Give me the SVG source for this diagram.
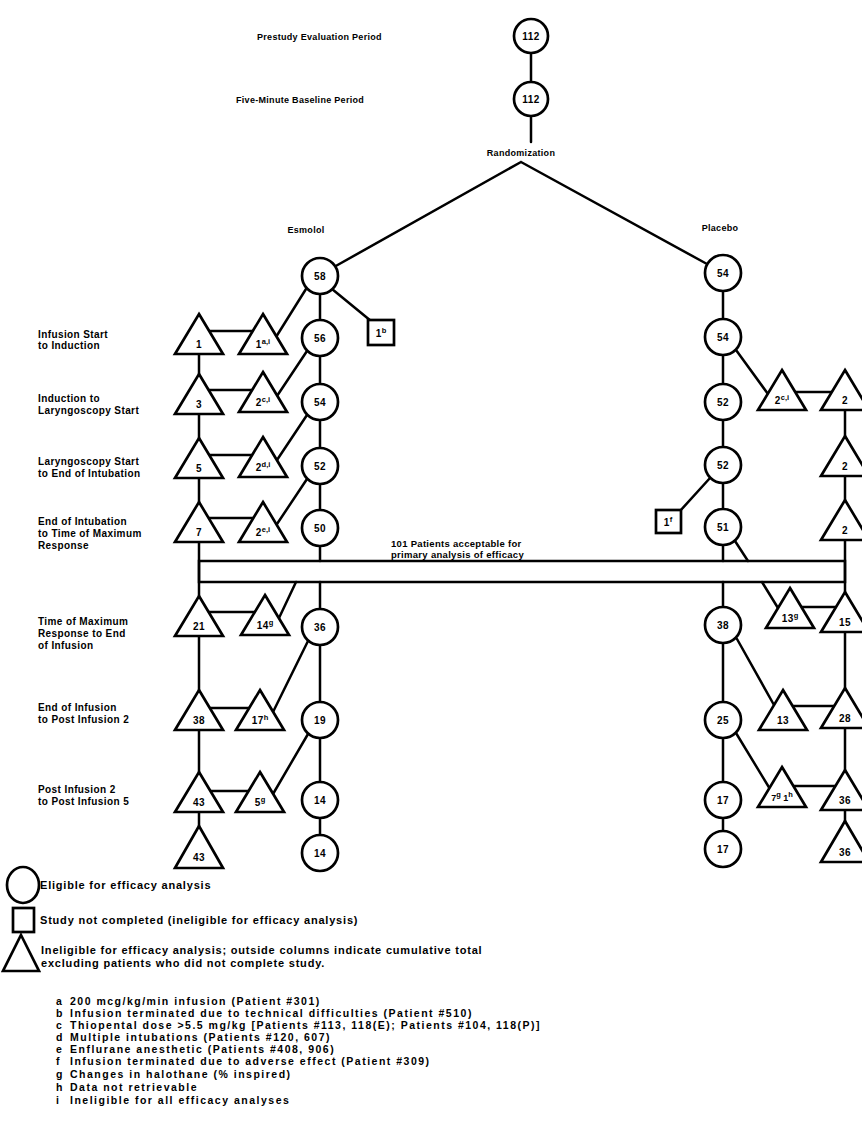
<svg xmlns="http://www.w3.org/2000/svg" width="862" height="1138" viewBox="0 0 862 1138">
<style>
.ln{stroke:#000;stroke-width:2.5;fill:none;stroke-linecap:round}
.nd{fill:#fff;stroke:#000;stroke-width:2.7}
.t{font-family:"Liberation Sans",Arial,sans-serif;font-weight:bold;font-size:10px;fill:#000;letter-spacing:0.4px}
.tp{font-size:9px;letter-spacing:0.3px}
.bd{font-size:9.5px;letter-spacing:0.3px}
.lg{font-size:11px;letter-spacing:0.8px}
.fn{font-size:10.5px;letter-spacing:1.5px}
.n{text-anchor:middle}
.s{font-size:7.5px;letter-spacing:0}
</style>
<rect width="862" height="1138" fill="#fff"/>
<g id="labels">
<text class="t tp" x="257" y="40">Prestudy Evaluation Period</text>
<text class="t tp" x="236" y="103">Five-Minute Baseline Period</text>
<text class="t tp n" x="521" y="156">Randomization</text>
<text class="t tp n" x="306" y="233">Esmolol</text>
<text class="t tp n" x="720" y="231">Placebo</text>
<text class="t" x="38" y="338">Infusion Start</text><text class="t" x="38" y="349">to Induction</text>
<text class="t" x="38" y="402">Induction to</text><text class="t" x="38" y="414">Laryngoscopy Start</text>
<text class="t" x="38" y="465">Laryngoscopy Start</text><text class="t" x="38" y="477">to End of Intubation</text>
<text class="t" x="38" y="525">End of Intubation</text><text class="t" x="38" y="537">to Time of Maximum</text><text class="t" x="38" y="549">Response</text>
<text class="t" x="38" y="625">Time of Maximum</text><text class="t" x="38" y="637">Response to End</text><text class="t" x="38" y="649">of Infusion</text>
<text class="t" x="38" y="711">End of Infusion</text><text class="t" x="38" y="723">to Post Infusion 2</text>
<text class="t" x="38" y="793">Post Infusion 2</text><text class="t" x="38" y="805">to Post Infusion 5</text>
<text class="t bd" x="391" y="547">101 Patients acceptable for</text>
<text class="t bd" x="391" y="558">primary analysis of efficacy</text>
</g>
<g id="connectors" class="ln">
<path d="M531,53V82M531,116V142"/>
<path d="M521,162L334,267M521,162L707,264"/>
<rect x="199" y="561" width="646" height="21"/>
<path d="M320,294V320M320,356V384M320,420V448M320,484V510M320,546V561M320,582V609M320,645V702M320,738V782M320,818V835"/>
<path d="M199,354V374M199,414V438M199,478V502M199,542V596M199,636V690M199,730V772M199,812V826"/>
<path d="M209,331H253M209,390H252M209,455H253M209,518H253M209,612H255M210,708H249M210,791H249"/>
<path d="M306,289L276,337M307,351L277,396M307,415L277,460M307,479L277,524M296,582L279,618M308,641L273,712M308,734L273,794"/>
<path d="M332,289L371,321"/>
<path d="M723,291V319M723,355V384M723,420V447M723,483V509M723,545V561M723,582V607M723,643V702M723,738V782M723,818V831"/>
<path d="M736,350L768,394M795,392H832"/>
<path d="M845,410V436M845,476V500M845,540V592M845,632V688M845,728V770M845,810V821"/>
<path d="M710,478L680,511M735,541L748,561M762,582L778,608"/>
<path d="M801,607H836M737,639L774,705M792,706H835M736,733L770,789M793,786H835"/>
</g>
<g id="top1"><circle class="nd" cx="531" cy="36" r="17"/><text class="t n" x="531" y="40">112</text></g>
<g id="top2"><circle class="nd" cx="531" cy="99" r="17"/><text class="t n" x="531" y="103">112</text></g>
<g id="e58"><circle class="nd" cx="320" cy="276" r="18"/><text class="t n" x="320" y="280">58</text></g>
<g id="e56"><circle class="nd" cx="320" cy="338" r="18"/><text class="t n" x="320" y="342">56</text></g>
<g id="e54"><circle class="nd" cx="320" cy="402" r="18"/><text class="t n" x="320" y="406">54</text></g>
<g id="e52"><circle class="nd" cx="320" cy="466" r="18"/><text class="t n" x="320" y="470">52</text></g>
<g id="e50"><circle class="nd" cx="320" cy="528" r="18"/><text class="t n" x="320" y="532">50</text></g>
<g id="e36"><circle class="nd" cx="320" cy="627" r="18"/><text class="t n" x="320" y="631">36</text></g>
<g id="e19"><circle class="nd" cx="320" cy="720" r="18"/><text class="t n" x="320" y="724">19</text></g>
<g id="e14a"><circle class="nd" cx="320" cy="800" r="18"/><text class="t n" x="320" y="804">14</text></g>
<g id="e14b"><circle class="nd" cx="320" cy="853" r="18"/><text class="t n" x="320" y="857">14</text></g>
<g id="esq"><rect class="nd" x="368" y="320" width="26" height="25"/><text class="t n" x="381" y="337">1<tspan class="s" dy="-4">b</tspan></text></g>
<g id="et1"><path class="nd" d="M199,314L223,354H175Z"/><text class="t n" x="199" y="348">1</text></g>
<g id="et1b"><path class="nd" d="M263,314L287,354H239Z"/><text class="t n" x="263" y="348">1<tspan class="s" dy="-4">a,i</tspan></text></g>
<g id="et2"><path class="nd" d="M199,374L223,414H175Z"/><text class="t n" x="199" y="408">3</text></g>
<g id="et2b"><path class="nd" d="M263,372L287,412H239Z"/><text class="t n" x="263" y="406">2<tspan class="s" dy="-4">c,i</tspan></text></g>
<g id="et3"><path class="nd" d="M199,438L223,478H175Z"/><text class="t n" x="199" y="472">5</text></g>
<g id="et3b"><path class="nd" d="M263,437L287,477H239Z"/><text class="t n" x="263" y="471">2<tspan class="s" dy="-4">d,i</tspan></text></g>
<g id="et4"><path class="nd" d="M199,502L223,542H175Z"/><text class="t n" x="199" y="536">7</text></g>
<g id="et4b"><path class="nd" d="M263,502L287,542H239Z"/><text class="t n" x="263" y="536">2<tspan class="s" dy="-4">e,i</tspan></text></g>
<g id="et5"><path class="nd" d="M199,596L223,636H175Z"/><text class="t n" x="199" y="630">21</text></g>
<g id="et5b"><path class="nd" d="M265,595L289,635H241Z"/><text class="t n" x="265" y="629">14<tspan class="s" dy="-4">g</tspan></text></g>
<g id="et6"><path class="nd" d="M199,690L223,730H175Z"/><text class="t n" x="199" y="724">38</text></g>
<g id="et6b"><path class="nd" d="M260,690L284,730H236Z"/><text class="t n" x="260" y="724">17<tspan class="s" dy="-4">h</tspan></text></g>
<g id="et7"><path class="nd" d="M199,772L223,812H175Z"/><text class="t n" x="199" y="806">43</text></g>
<g id="et7b"><path class="nd" d="M260,772L284,812H236Z"/><text class="t n" x="260" y="806">5<tspan class="s" dy="-4">g</tspan></text></g>
<g id="et8"><path class="nd" d="M199,826L223,868H175Z"/><text class="t n" x="199" y="861">43</text></g>
<g id="p54a"><circle class="nd" cx="723" cy="273" r="18"/><text class="t n" x="723" y="277">54</text></g>
<g id="p54b"><circle class="nd" cx="723" cy="337" r="18"/><text class="t n" x="723" y="341">54</text></g>
<g id="p52a"><circle class="nd" cx="723" cy="402" r="18"/><text class="t n" x="723" y="406">52</text></g>
<g id="p52b"><circle class="nd" cx="723" cy="465" r="18"/><text class="t n" x="723" y="469">52</text></g>
<g id="p51"><circle class="nd" cx="723" cy="527" r="18"/><text class="t n" x="723" y="531">51</text></g>
<g id="p38"><circle class="nd" cx="723" cy="625" r="18"/><text class="t n" x="723" y="629">38</text></g>
<g id="p25"><circle class="nd" cx="723" cy="720" r="18"/><text class="t n" x="723" y="724">25</text></g>
<g id="p17a"><circle class="nd" cx="723" cy="800" r="18"/><text class="t n" x="723" y="804">17</text></g>
<g id="p17b"><circle class="nd" cx="723" cy="849" r="18"/><text class="t n" x="723" y="853">17</text></g>
<g id="psq"><rect class="nd" x="656" y="510" width="25" height="23"/><text class="t n" x="668" y="526">1<tspan class="s" dy="-4">f</tspan></text></g>
<g id="pt2"><path class="nd" d="M782,370L806,410H758Z"/><text class="t n" x="782" y="404">2<tspan class="s" dy="-4">c,i</tspan></text></g>
<g id="pr2"><path class="nd" d="M845,370L869,410H821Z"/><text class="t n" x="845" y="404">2</text></g>
<g id="pr3"><path class="nd" d="M845,436L869,476H821Z"/><text class="t n" x="845" y="470">2</text></g>
<g id="pr4"><path class="nd" d="M845,500L869,540H821Z"/><text class="t n" x="845" y="534">2</text></g>
<g id="pt5"><path class="nd" d="M790,588L814,628H766Z"/><text class="t n" x="790" y="622">13<tspan class="s" dy="-4">g</tspan></text></g>
<g id="pr5"><path class="nd" d="M845,592L869,632H821Z"/><text class="t n" x="845" y="626">15</text></g>
<g id="pt6"><path class="nd" d="M783,690L807,730H759Z"/><text class="t n" x="783" y="724">13</text></g>
<g id="pr6"><path class="nd" d="M845,688L869,728H821Z"/><text class="t n" x="845" y="722">28</text></g>
<g id="pt7"><path class="nd" d="M782,767L806,807H758Z"/><text class="t n" x="782" y="801" style="font-size:9px;letter-spacing:0">7<tspan class="s" dy="-4">g</tspan><tspan dy="4"> 1</tspan><tspan class="s" dy="-4">h</tspan></text></g>
<g id="pr7"><path class="nd" d="M845,770L869,810H821Z"/><text class="t n" x="845" y="804">36</text></g>
<g id="pr8"><path class="nd" d="M845,821L869,862H821Z"/><text class="t n" x="845" y="856">36</text></g>
<g id="legend">
<ellipse class="nd" cx="23" cy="885" rx="16" ry="18"/>
<text class="t lg" x="40" y="889">Eligible for efficacy analysis</text>
<rect class="nd" x="13" y="908" width="21" height="24"/>
<text class="t lg" x="40" y="924">Study not completed (ineligible for efficacy analysis)</text>
<path class="nd" d="M21,935L39,971H3Z"/>
<text class="t lg" x="41" y="954">Ineligible for efficacy analysis; outside columns indicate cumulative total</text>
<text class="t lg" x="41" y="967">excluding patients who did not complete study.</text>
</g>
<g id="footnotes">
<text class="t fn" x="56" y="1005">a</text><text class="t fn" x="70" y="1005">200 mcg/kg/min infusion (Patient #301)</text>
<text class="t fn" x="56" y="1017">b</text><text class="t fn" x="70" y="1017">Infusion terminated due to technical difficulties (Patient #510)</text>
<text class="t fn" x="56" y="1029">c</text><text class="t fn" x="70" y="1029">Thiopental dose &gt;5.5 mg/kg [Patients #113, 118(E); Patients #104, 118(P)]</text>
<text class="t fn" x="56" y="1041">d</text><text class="t fn" x="70" y="1041">Multiple intubations (Patients #120, 607)</text>
<text class="t fn" x="56" y="1053">e</text><text class="t fn" x="70" y="1053">Enflurane anesthetic (Patients #408, 906)</text>
<text class="t fn" x="56" y="1065">f</text><text class="t fn" x="70" y="1065">Infusion terminated due to adverse effect (Patient #309)</text>
<text class="t fn" x="56" y="1078">g</text><text class="t fn" x="70" y="1078">Changes in halothane (% inspired)</text>
<text class="t fn" x="56" y="1091">h</text><text class="t fn" x="70" y="1091">Data not retrievable</text>
<text class="t fn" x="56" y="1104">i</text><text class="t fn" x="70" y="1104">Ineligible for all efficacy analyses</text>
</g>
</svg>
